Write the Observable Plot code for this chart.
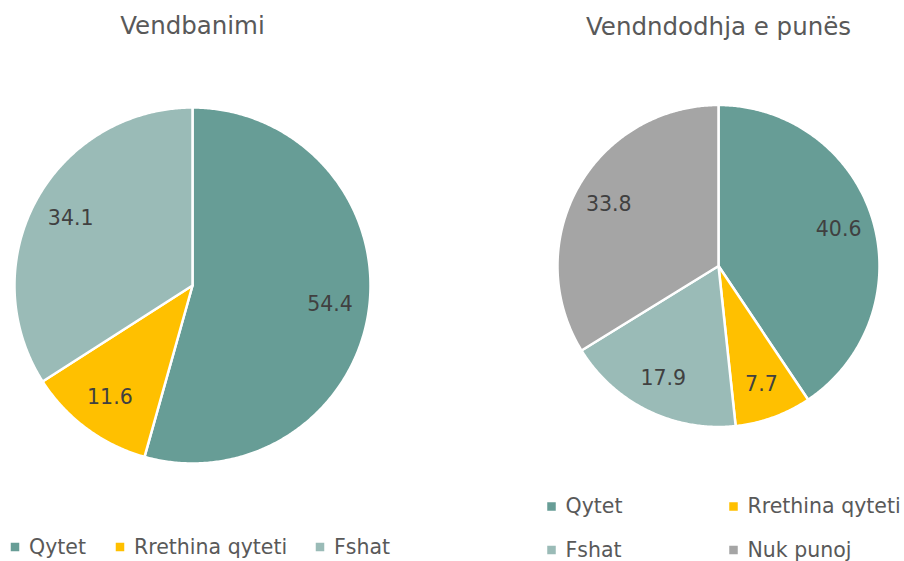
<!DOCTYPE html>
<html><head><meta charset="utf-8">
<script src="https://cdn.jsdelivr.net/npm/d3@7"></script>
<script src="https://cdn.jsdelivr.net/npm/@observablehq/plot@0.6"></script>
<style>body{margin:0;background:#fff;overflow:hidden}</style>
</head><body><div id="chart"></div>
<script>
// ---- data ----
const categories = ["Qytet", "Rrethina qyteti", "Fshat", "Nuk punoj"];
const colors = ["#679D96", "#FFC000", "#9ABBB7", "#A5A5A5"];
const titles = ["Vendbanimi", "Vendndodhja e punës"];
const residenceCats = ["Qytet", "Rrethina qyteti", "Fshat"];
const residenceValues = [54.4, 11.6, 34.1];
const workCats = ["Qytet", "Rrethina qyteti", "Fshat", "Nuk punoj"];
const workValues = [40.6, 7.7, 17.9, 33.8];

// ---- layout ----
const W = 904, H = 561;
const pies = [
  {title: titles[0], cats: residenceCats, values: residenceValues, cx: 192, cy: 285, r: 178, titleY: 26,
   legendX: [14.5, 119.5, 319.5], legendY: [546.5], cols: 3},
  {title: titles[1], cats: workCats, values: workValues, cx: 718, cy: 265.5, r: 161, titleY: 27,
   legendX: [551, 733], legendY: [506, 549.5], cols: 2}
];

const sliceRows = [], labelRows = [], titleRows = [], legendRows = [];
pies.forEach((p, pi) => {
  const arcs = d3.pie().sort(null).startAngle(0).endAngle(2 * Math.PI)(p.values);
  arcs.forEach((a, i) => {
    const key = pi + "-" + p.cats[i];
    const cat = p.cats[i];
    sliceRows.push({key, cat, x: p.cx, y: p.cy});
    const n = Math.max(2, Math.ceil((a.endAngle - a.startAngle) / (Math.PI / 360)));
    for (let k = 0; k <= n; k++) {
      const t = a.startAngle + (a.endAngle - a.startAngle) * k / n;
      sliceRows.push({key, cat, x: p.cx + p.r * Math.sin(t), y: p.cy - p.r * Math.cos(t)});
    }
    sliceRows.push({key, cat, x: p.cx, y: p.cy});
    const m = (a.startAngle + a.endAngle) / 2;
    labelRows.push({x: p.cx + 0.78 * p.r * Math.sin(m), y: p.cy - 0.78 * p.r * Math.cos(m), text: p.values[i].toFixed(1)});
    legendRows.push({cat, sx: p.legendX[i % p.cols], tx: p.legendX[i % p.cols] + 14, y: p.legendY[Math.floor(i / p.cols)]});
  });
  titleRows.push({x: p.cx, y: p.titleY, text: p.title});
});

const chart = Plot.plot({
  width: W, height: H, margin: 0,
  style: {fontFamily: "DejaVu Sans", background: "#fff"},
  x: {domain: [0, W], axis: null},
  y: {domain: [H, 0], axis: null},
  color: {domain: categories, range: colors},
  marks: [
    Plot.line(sliceRows, {x: "x", y: "y", z: "key", fill: "cat", stroke: "white", strokeWidth: 2.5, strokeLinejoin: "round", curve: "linear"}),
    Plot.text(labelRows, {x: "x", y: "y", text: "text", fontSize: 20.5, fill: "#404040"}),
    Plot.text(titleRows, {x: "x", y: "y", text: "text", fontSize: 24.5, fill: "#595959"}),
    Plot.dot(legendRows, {x: "sx", y: "y", fill: "cat", symbol: "square", r: 4.8}),
    Plot.text(legendRows, {x: "tx", y: "y", text: "cat", textAnchor: "start", fontSize: 20.5, fill: "#595959"})
  ]
});
document.getElementById("chart").appendChild(chart);
</script>
</body></html>
